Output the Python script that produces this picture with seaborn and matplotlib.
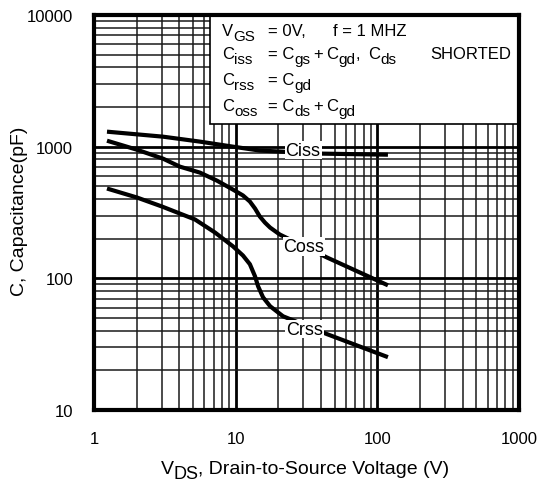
import matplotlib
matplotlib.use("Agg")
import matplotlib.pyplot as plt
import seaborn as sns
import pandas as pd
from matplotlib.ticker import LogLocator, NullFormatter, FixedLocator, FixedFormatter
from matplotlib.patches import Rectangle

# ---- data ----
v_ciss = [1.235, 3.07, 5.6, 9.57, 14.8, 41.3, 118.8]
c_ciss = [1300, 1191, 1092, 1000, 934, 885, 869]

v_coss = [1.235, 2.01, 3.07, 4.04, 5.6, 7.38, 9.57, 11.26, 12.6, 13.7, 14.8, 16.1, 17.5, 20.5, 44.1, 118.8]
c_coss = [1110, 948, 811, 705, 635, 552, 472, 426, 383, 339, 295, 265, 243, 215, 144, 88.5]

v_crss = [1.235, 2.01, 3.02, 5.16, 7.14, 9.57, 11.26, 12.6, 13.7, 14.4, 15.6, 17.5, 21.6, 44.1, 118.8]
c_crss = [481, 411, 351, 280, 223, 175, 149, 128, 103.5, 87, 71.8, 61.4, 51.5, 37.7, 25.2]

x_ticks = [1, 10, 100, 1000]
x_ticklabels = ["1", "10", "100", "1000"]
y_ticks = [10, 100, 1000, 10000]
y_ticklabels = ["10", "100", "1000", "10000"]

series_names = ["Ciss", "Coss", "Crss"]

rows = []
for name, vs, cs in zip(series_names, [v_ciss, v_coss, v_crss], [c_ciss, c_coss, c_crss]):
    for i, (v, c) in enumerate(zip(vs, cs)):
        rows.append({"series": name, "V": v, "C": c, "order": i})
df = pd.DataFrame(rows)

sns.set_theme(style="white")
plt.rcParams["font.family"] = ["Liberation Sans", "DejaVu Sans"]

W, H = 540, 485
fig = plt.figure(figsize=(W / 100, H / 100), dpi=100)
fig.patch.set_facecolor("white")
ax = fig.add_axes([94 / W, 1 - 411 / H, 425 / W, 395 / H])

ax.set_xscale("log")
ax.set_yscale("log")
ax.set_xlim(1, 1000)
ax.set_ylim(10, 10000)

# grid
ax.xaxis.set_minor_locator(LogLocator(base=10, subs=range(2, 10)))
ax.yaxis.set_minor_locator(LogLocator(base=10, subs=range(2, 10)))
ax.xaxis.set_minor_formatter(NullFormatter())
ax.yaxis.set_minor_formatter(NullFormatter())
ax.grid(which="major", color="black", lw=2.0, zorder=1)
ax.grid(which="minor", color="#1a1a1a", lw=1.1, zorder=1)
ax.set_axisbelow(True)

palette = {"Ciss": "black", "Coss": "black", "Crss": "black"}
sns.lineplot(data=df, x="V", y="C", hue="series", units="series", estimator=None,
             sort=False, palette=palette, lw=3.0, legend=False, ax=ax, zorder=3)
for ln in ax.get_lines():
    ln.set_solid_joinstyle("round")
    ln.set_solid_capstyle("butt")

ax.xaxis.set_major_locator(FixedLocator(x_ticks))
ax.xaxis.set_major_formatter(FixedFormatter(x_ticklabels))
ax.yaxis.set_major_locator(FixedLocator(y_ticks))
ax.yaxis.set_major_formatter(FixedFormatter(y_ticklabels))
ax.tick_params(which="both", direction="in", length=5, width=1.5, color="black",
               labelsize=12, labelcolor="black")
ax.tick_params(axis="x", which="major", pad=15)
ax.tick_params(axis="y", which="major", pad=15)

for s in ax.spines.values():
    s.set_color("black")
    s.set_linewidth(3.0)
    s.set_zorder(6)

ax.set_xlabel("")
ax.set_ylabel("C, Capacitance(pF)", fontsize=14, color="black")
ax.yaxis.set_label_coords(-0.155, 0.505)

# curve labels
lab_kw = dict(transform=ax.transAxes, ha="center", va="center", fontsize=13,
              color="black", zorder=5,
              bbox=dict(boxstyle="square,pad=0.05", fc="white", ec="none"))
ax.text(0.492, 0.658, "Ciss", **lab_kw)
ax.text(0.494, 0.413, "Coss", **lab_kw)
ax.text(0.496, 0.205, "Crss", **lab_kw)

# condition box
box = Rectangle((0.273, 0.724), 0.727, 0.276, transform=ax.transAxes,
                facecolor="white", edgecolor="black", lw=1.2, zorder=4)
ax.add_patch(box)

renderer = fig.canvas.get_renderer()
FS = 12
FS_SUB = 11
SUB_DROP = 5


def seg_width(s, size):
    t = fig.text(0, 0, s, fontsize=size)
    w = t.get_window_extent(renderer).width
    t.remove()
    return w


def draw_segments(px, py, segs, align="left", fs=FS, fs_sub=FS_SUB, drop=SUB_DROP):
    # segs: (text, is_subscript, gap_before_px)
    total = sum(g + seg_width(s, fs_sub if sub else fs) for s, sub, g in segs)
    x = px if align == "left" else px - total / 2
    for s, sub, g in segs:
        size = fs_sub if sub else fs
        x += g
        yy = py + (drop if sub else 0)
        fig.text(x / W, 1 - yy / H, s, fontsize=size, color="black",
                 ha="left", va="baseline", zorder=7)
        x += seg_width(s, size)


draw_segments(222, 36, [("V", 0, 0), ("GS", 1, 0)])
draw_segments(268, 36, [("= 0V,", 0, 0)])
draw_segments(333, 36, [("f = 1 MHZ", 0, 0)])
draw_segments(222, 59, [("C", 0, 0), ("iss", 1, 0)])
draw_segments(268, 59, [("= C", 0, 0), ("gs", 1, 0), ("+", 0, 3), ("C", 0, 3), ("gd", 1, 0), (",", 0, 0)])
draw_segments(368, 59, [("C", 0, 0), ("ds", 1, 0)])
draw_segments(430, 59, [("SHORTED", 0, 0)])
draw_segments(222, 85, [("C", 0, 0), ("rss", 1, 0)])
draw_segments(268, 85, [("= C", 0, 0), ("gd", 1, 0)])
draw_segments(222, 111, [("C", 0, 0), ("oss", 1, 0)])
draw_segments(268, 111, [("= C", 0, 0), ("ds", 1, 0), ("+", 0, 3), ("C", 0, 3), ("gd", 1, 0)])

# x-axis title with full-size subscript
draw_segments(305, 474, [("V", 0, 0), ("DS", 1, 0), (", Drain-to-Source Voltage (V)", 0, 0)],
              align="center", fs=14, fs_sub=13, drop=5)

fig.savefig("out.png", dpi=100, facecolor="white")
